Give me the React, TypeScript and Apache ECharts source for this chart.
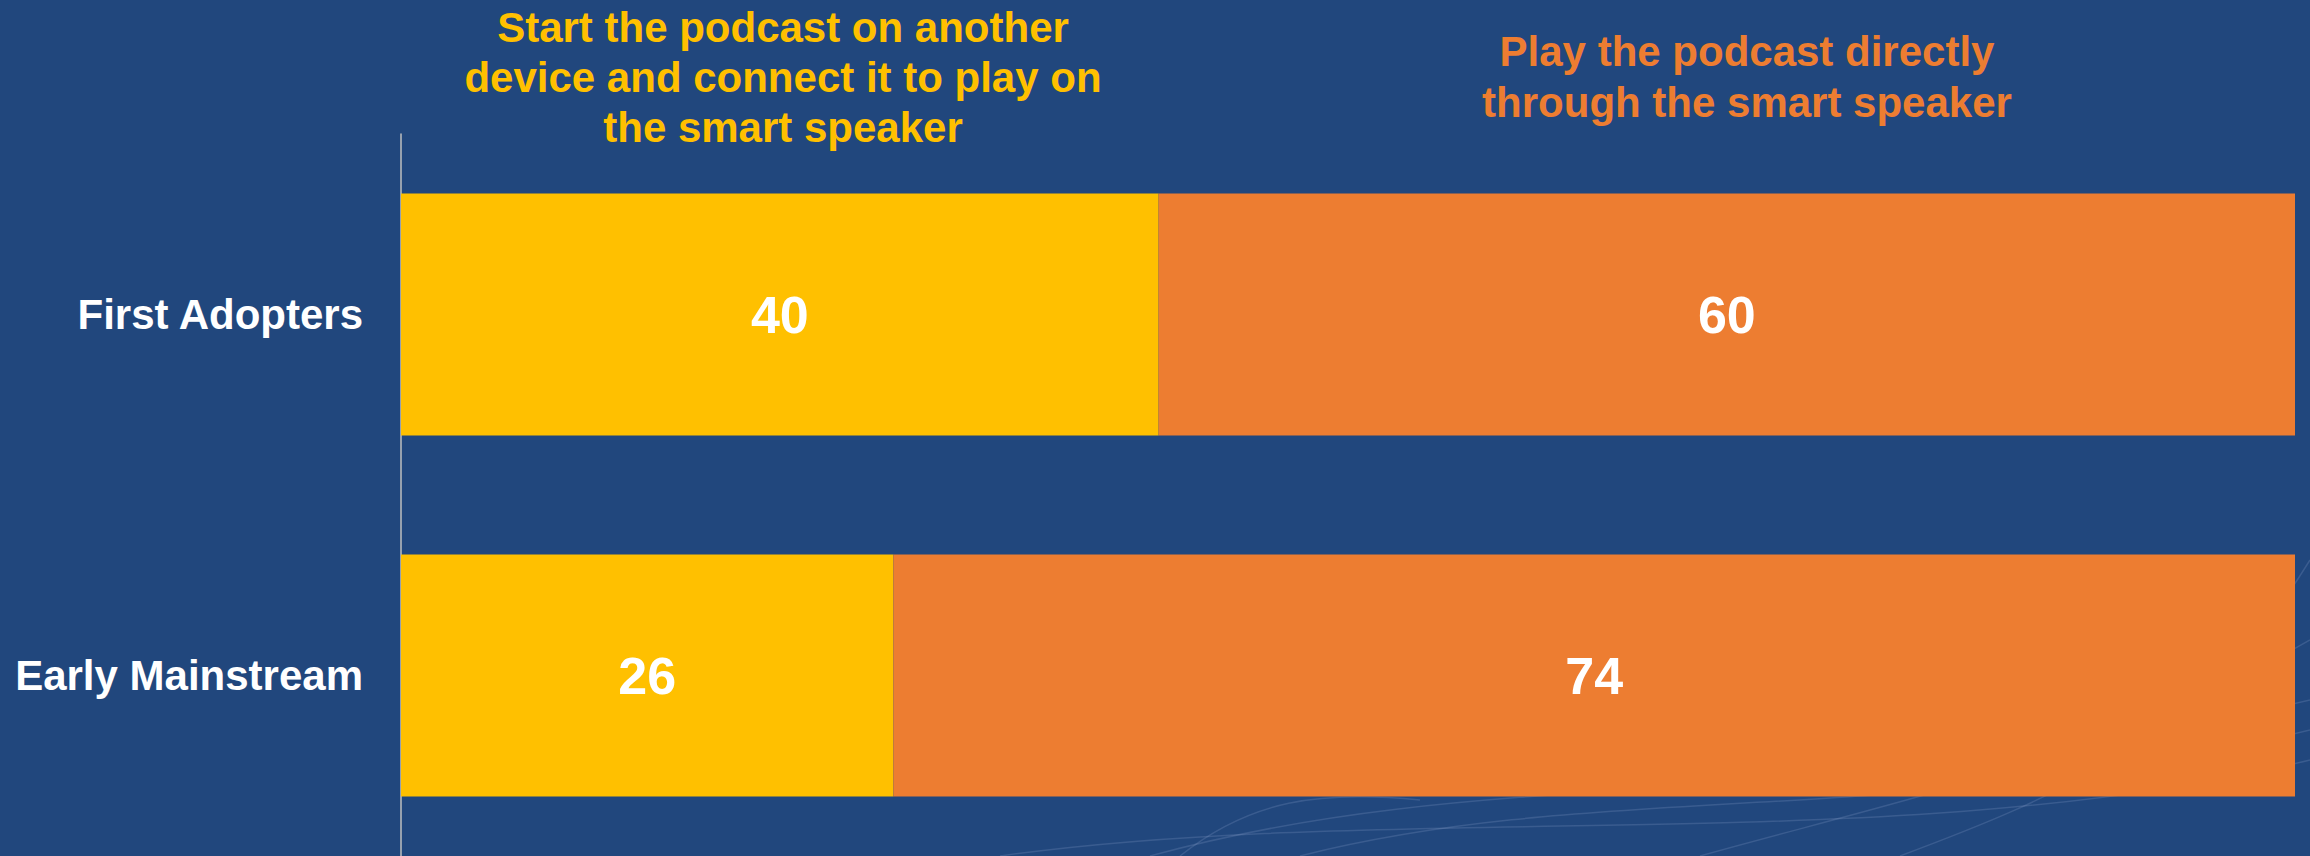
import React, { useEffect, useRef } from "react";
import * as echarts from "echarts";

const categories: string[] = ["First Adopters", "Early Mainstream"];
const seriesNames: string[] = [
  "Start the podcast on another\ndevice and connect it to play on\nthe smart speaker",
  "Play the podcast directly\nthrough the smart speaker",
];
const startOnOtherDevice: number[] = [40, 26];
const playDirectly: number[] = [60, 74];

const BG = "#21477D";
const YELLOW = "#FFC000";
const ORANGE = "#ED7D31";
const FONT = "Liberation Sans, Arial, sans-serif";

const waves: number[][] = [
  [1150, 856, 1500, 760, 1800, 820, 2310, 700],
  [1300, 856, 1600, 780, 1900, 830, 2310, 730],
  [1000, 856, 1400, 800, 1900, 860, 2310, 760],
  [1700, 856, 1900, 800, 2100, 760, 2310, 640],
  [1900, 856, 2050, 800, 2200, 740, 2310, 560],
  [1180, 856, 1250, 800, 1320, 790, 1420, 800],
];

export default function App() {
  const ref = useRef<HTMLDivElement>(null);
  useEffect(() => {
    if (!ref.current) return;
    const chart = echarts.init(ref.current, undefined, { renderer: "svg" });
    const waveEls = waves.map((w) => ({
      type: "bezierCurve",
      z: -10,
      silent: true,
      shape: { x1: w[0], y1: w[1], cpx1: w[2], cpy1: w[3], cpx2: w[4], cpy2: w[5], x2: w[6], y2: w[7] },
      style: { stroke: "rgba(170,190,230,0.18)", lineWidth: 1.5, fill: null },
    }));
    chart.setOption({
      animation: false,
      backgroundColor: BG,
      grid: { left: 401, right: 15, top: 134, bottom: 0, containLabel: false },
      xAxis: { type: "value", min: 0, max: 100, show: false },
      yAxis: {
        type: "category",
        data: categories,
        inverse: true,
        axisLine: { show: true, lineStyle: { color: "#BFBFBF", width: 1.5 } },
        axisTick: { show: false },
        splitLine: { show: false },
        axisLabel: {
          color: "#FFFFFF",
          fontSize: 42,
          fontWeight: "bold",
          fontFamily: FONT,
          margin: 38,
        },
      },
      graphic: [
        ...waveEls,
        {
          type: "text",
          style: {
            text: seriesNames[0],
            x: 783,
            y: 2,
            fill: YELLOW,
            font: `bold 42px ${FONT}`,
            align: "center",
            verticalAlign: "top",
            lineHeight: 50,
          },
        },
        {
          type: "text",
          style: {
            text: seriesNames[1],
            x: 1747,
            y: 26,
            fill: ORANGE,
            font: `bold 42px ${FONT}`,
            align: "center",
            verticalAlign: "top",
            lineHeight: 51,
          },
        },
      ],
      series: [
        {
          name: seriesNames[0],
          type: "bar",
          stack: "total",
          data: startOnOtherDevice,
          barCategoryGap: "33%",
          itemStyle: { color: YELLOW },
          label: {
            show: true,
            position: "inside",
            color: "#FFFFFF",
            fontSize: 52,
            fontWeight: "bold",
            fontFamily: FONT,
          },
        },
        {
          name: seriesNames[1],
          type: "bar",
          stack: "total",
          data: playDirectly,
          barCategoryGap: "33%",
          itemStyle: { color: ORANGE },
          label: {
            show: true,
            position: "inside",
            color: "#FFFFFF",
            fontSize: 52,
            fontWeight: "bold",
            fontFamily: FONT,
          },
        },
      ],
    });
    return () => chart.dispose();
  }, []);
  return (
    <div
      ref={ref}
      style={{ position: "fixed", left: 0, top: 0, width: 2310, height: 856 }}
    />
  );
}
